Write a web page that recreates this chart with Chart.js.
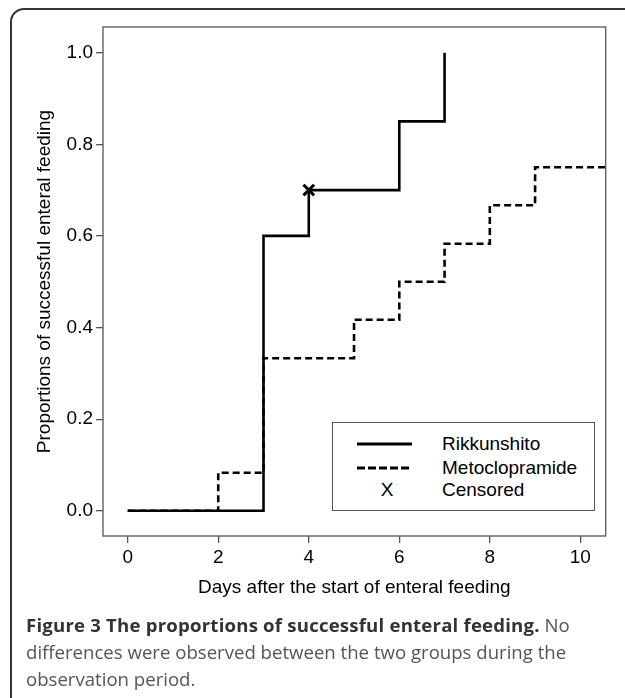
<!DOCTYPE html>
<html>
<head>
<meta charset="utf-8">
<script src="https://cdn.jsdelivr.net/npm/chart.js@4/dist/chart.umd.min.js"></script>
<style>
  html, body { margin: 0; padding: 0; background: #fff; overflow: hidden; }
  #page { position: relative; width: 625px; height: 698px; overflow: hidden; }
  #frame { position: absolute; left: 10px; top: 8px; width: 700px; height: 720px;
           border: 2px solid #333; border-radius: 14px; box-sizing: border-box; }
  #chart { position: absolute; left: 0; top: 0; }
  #legend { position: absolute; left: 332px; top: 422px; width: 263px; height: 89px;
            border: 1.3px solid #555; box-sizing: border-box; background: #fff;
            font: 19px "Liberation Sans", Arial, sans-serif; color: #000; }
  .row { position: absolute; left: 0; height: 24px; width: 100%; }
  .row svg { position: absolute; left: 24px; top: 0; }
  .row span { position: absolute; left: 109px; top: 0; line-height: 24px; }
  .row .sym { left: 46px; width: 16px; text-align: center; }
  #caption { position: absolute; left: 26px; top: 611px; width: 590px;
             font: 18.6px "Open Sans", sans-serif; line-height: 27px; color: #555; }
  #caption b { color: #333; letter-spacing: 0.2px; }
</style>
</head>
<body>
<div id="page">
  <div id="frame"></div>
  <canvas id="chart" width="625" height="698"></canvas>
  <div id="legend">
    <div class="row" style="top:9px">
      <svg width="60" height="24"><line x1="0" y1="12" x2="55" y2="12" stroke="#000" stroke-width="3"/></svg>
      <span>Rikkunshito</span>
    </div>
    <div class="row" style="top:33px">
      <svg width="60" height="24"><line x1="0" y1="12" x2="55" y2="12" stroke="#000" stroke-width="3" stroke-dasharray="8 3"/></svg>
      <span>Metoclopramide</span>
    </div>
    <div class="row" style="top:55px">
      <span class="sym">X</span>
      <span>Censored</span>
    </div>
  </div>
  <div id="caption"><b>Figure 3 The proportions of successful enteral feeding.</b> No<br>differences were observed between the two groups during the<br>observation period.</div>
</div>
<script>
// --- Data ---
const rikkDays = [0, 3, 4, 6, 7];
const rikkProp = [0, 0.6, 0.7, 0.85, 1.0];
const metoDays = [0, 2, 3, 5, 6, 7, 8, 9, 11];
const metoProp = [0, 0.083, 0.333, 0.417, 0.5, 0.583, 0.667, 0.75, 0.75];
const censorDays = [4];
const censorProp = [0.7];
const xTicks = [0, 2, 4, 6, 8, 10];
const yTicks = [0, 0.2, 0.4, 0.6, 0.8, 1.0];

const FONT = { family: '"Liberation Sans", Arial, sans-serif', size: 19 };
const AXIS_COLOR = '#555';

const toPoints = (xs, ys) => xs.map((x, i) => ({ x: x, y: ys[i] }));

// --- Kotak di sekitar area plot ---
const framePlugin = {
    id: 'plotFrame',
    afterDatasetsDraw(chart) {
        const { ctx, chartArea: a } = chart;
        ctx.save();
        ctx.strokeStyle = AXIS_COLOR;
        ctx.lineWidth = 1.3;
        ctx.strokeRect(a.left, a.top, a.right - a.left, a.bottom - a.top);
        ctx.restore();
    }
};

new Chart(document.getElementById('chart').getContext('2d'), {
    type: 'line',
    data: {
        datasets: [{
            label: 'Rikkunshito',
            data: toPoints(rikkDays, rikkProp),
            borderColor: '#000', borderWidth: 2.6, stepped: 'before',
            pointRadius: 0, fill: false, clip: 0
        }, {
            label: 'Metoclopramide',
            data: toPoints(metoDays, metoProp),
            borderColor: '#000', borderWidth: 2.6, borderDash: [7, 4], stepped: 'before',
            pointRadius: 0, fill: false, clip: 0
        }, {
            label: 'Censored',
            data: toPoints(censorDays, censorProp),
            showLine: false, pointStyle: 'crossRot', pointRadius: 7.5,
            pointBorderColor: '#000', pointBorderWidth: 3, clip: false
        }]
    },
    options: {
        responsive: false, animation: false,
        layout: { padding: { left: 0, top: 27, right: 19.3, bottom: 98.6 } },
        plugins: { legend: { display: false }, tooltip: { enabled: false } },
        scales: {
            x: {
                type: 'linear', min: -0.546, max: 10.56,
                afterFit: s => { s.height = 63.4; },
                afterBuildTicks: s => { s.ticks = xTicks.map(v => ({ value: v })); },
                grid: { drawOnChartArea: false, drawTicks: true, tickLength: 7, color: AXIS_COLOR, lineWidth: 1.3 },
                border: { display: false },
                ticks: { color: '#000', font: FONT, padding: 3, maxRotation: 0, callback: v => String(v) },
                title: { display: true, text: 'Days after the start of enteral feeding', color: '#000', font: FONT, padding: 0 }
            },
            y: {
                type: 'linear', min: -0.055, max: 1.056,
                afterFit: s => { s.width = 103; },
                afterBuildTicks: s => { s.ticks = yTicks.map(v => ({ value: v })); },
                grid: { drawOnChartArea: false, drawTicks: true, tickLength: 7, color: AXIS_COLOR, lineWidth: 1.3 },
                border: { display: false },
                ticks: { color: '#000', font: FONT, padding: 3, callback: v => v.toFixed(1) },
                title: { display: true, text: 'Proportions of successful enteral feeding', color: '#000', font: FONT, padding: { top: 33.6, bottom: 0 } }
            }
        }
    },
    plugins: [framePlugin]
});
</script>
</body>
</html>
